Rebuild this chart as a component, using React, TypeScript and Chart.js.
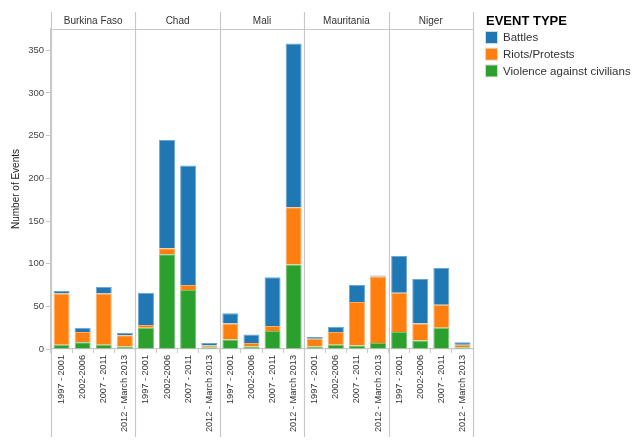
import React, { useEffect, useRef } from "react";
import { Chart, registerables } from "chart.js";

Chart.register(...registerables);

const countries = ["Burkina Faso", "Chad", "Mali", "Mauritania", "Niger"];
const periods = ["1997 - 2001", "2002-2006", "2007 - 2011", "2012 - March 2013"];

// one value per country x period, in the order of countries then periods
const battles = [3, 5, 8, 3, 38, 127, 140, 3, 12, 10, 57, 192, 2, 6, 20, 1, 43, 52, 43, 3];
const riots = [60, 12, 60, 13, 3, 7, 6, 2, 19, 4, 6, 67, 9, 15, 51, 78, 46, 20, 27, 3];
const violence = [5, 8, 5, 3, 25, 111, 69, 2, 11, 3, 21, 99, 3, 5, 4, 7, 20, 10, 25, 2];

const yTicks = [0, 50, 100, 150, 200, 250, 300, 350];

const FONT = "Arial, 'Liberation Sans', sans-serif";
const GRID = "#c8c8c8";

const facetPlugin = {
  id: "facets",
  afterDraw(chart: any) {
    const { ctx, chartArea } = chart;
    const { left, right, top } = chartArea;
    const panelW = (right - left) / countries.length;
    const headerTop = top - 17;
    const lineBottom = chart.height - 10;
    ctx.save();
    ctx.strokeStyle = GRID;
    ctx.lineWidth = 1.2;
    for (let i = 0; i <= countries.length; i++) {
      const x = Math.round(left + i * panelW) + 0.5;
      ctx.beginPath();
      ctx.moveTo(x, headerTop);
      ctx.lineTo(x, lineBottom);
      ctx.stroke();
    }
    ctx.beginPath();
    ctx.moveTo(left, Math.round(top) + 0.5);
    ctx.lineTo(right, Math.round(top) + 0.5);
    ctx.stroke();

    ctx.fillStyle = "#333";
    ctx.font = `10px ${FONT}`;
    ctx.textAlign = "center";
    ctx.textBaseline = "middle";
    countries.forEach((c, i) => {
      ctx.fillText(c, left + (i + 0.5) * panelW, (headerTop + top) / 2 + 1);
    });

    // legend, top item = last dataset
    const lx = right + 12;
    ctx.textAlign = "left";
    ctx.fillStyle = "#000";
    ctx.font = `bold 13px ${FONT}`;
    ctx.fillText("EVENT TYPE", lx + 1, 21);
    ctx.font = `11.5px ${FONT}`;
    const sets = [...chart.data.datasets].reverse();
    sets.forEach((ds: any, k: number) => {
      const cy = 37.5 + k * 16.7;
      ctx.fillStyle = ds.backgroundColor;
      ctx.fillRect(lx + 1, cy - 5.5, 11, 11);
      ctx.strokeStyle = "rgba(0,0,0,0.15)";
      ctx.lineWidth = 1;
      ctx.strokeRect(lx + 0.5, cy - 6, 12, 12);
      ctx.fillStyle = "#333";
      ctx.fillText(ds.label, lx + 18, cy + 0.5);
    });
    ctx.restore();
  },
};

const App: React.FC = () => {
  const canvasRef = useRef<HTMLCanvasElement | null>(null);

  useEffect(() => {
    document.body.style.margin = "0";
    if (!canvasRef.current) return;

    const labels = countries.flatMap(() => periods);

    const chart = new Chart(canvasRef.current, {
      type: "bar",
      data: {
        labels,
        datasets: [
          {
            label: "Violence against civilians",
            data: violence,
            backgroundColor: "#2ca02c",
            borderColor: "#72c472",
          },
          {
            label: "Riots/Protests",
            data: riots,
            backgroundColor: "#ff7f0e",
            borderColor: "#ffad66",
          },
          {
            label: "Battles",
            data: battles,
            backgroundColor: "#1f77b4",
            borderColor: "#6ea6d2",
          },
        ],
      },
      options: {
        responsive: false,
        animation: false,
        layout: { padding: { top: 29, right: 167, left: 0, bottom: 0 } },
        datasets: {
          bar: { barPercentage: 0.76, categoryPercentage: 1, borderWidth: 1 },
        },
        plugins: {
          legend: { display: false },
          tooltip: { enabled: false },
        },
        scales: {
          x: {
            stacked: true,
            afterFit: (scale: any) => {
              scale.height = 98;
            },
            grid: {
              drawOnChartArea: false,
              drawTicks: true,
              tickLength: 4,
              color: GRID,
            },
            border: { color: GRID, width: 1.2 },
            ticks: {
              autoSkip: false,
              minRotation: 90,
              maxRotation: 90,
              padding: 2,
              color: "#333",
              font: { family: FONT, size: 9.2 },
            },
          },
          y: {
            stacked: true,
            min: 0,
            max: 375,
            afterFit: (scale: any) => {
              scale.width = 51;
            },
            afterBuildTicks: (scale: any) => {
              scale.ticks = yTicks.map((v) => ({ value: v }));
            },
            grid: {
              drawOnChartArea: false,
              drawTicks: true,
              tickLength: 5,
              color: GRID,
            },
            border: { color: GRID, width: 1.2 },
            ticks: {
              padding: 2,
              color: "#444",
              font: { family: FONT, size: 9.5 },
            },
            title: {
              display: true,
              text: "Number of Events",
              color: "#222",
              padding: { top: 10, bottom: 0 },
              font: { family: FONT, size: 10 },
            },
          },
        },
      },
      plugins: [facetPlugin],
    });

    return () => {
      chart.destroy();
    };
  }, []);

  return (
    <div style={{ width: 640, height: 447 }}>
      <canvas ref={canvasRef} width={640} height={447} />
    </div>
  );
};

export default App;
